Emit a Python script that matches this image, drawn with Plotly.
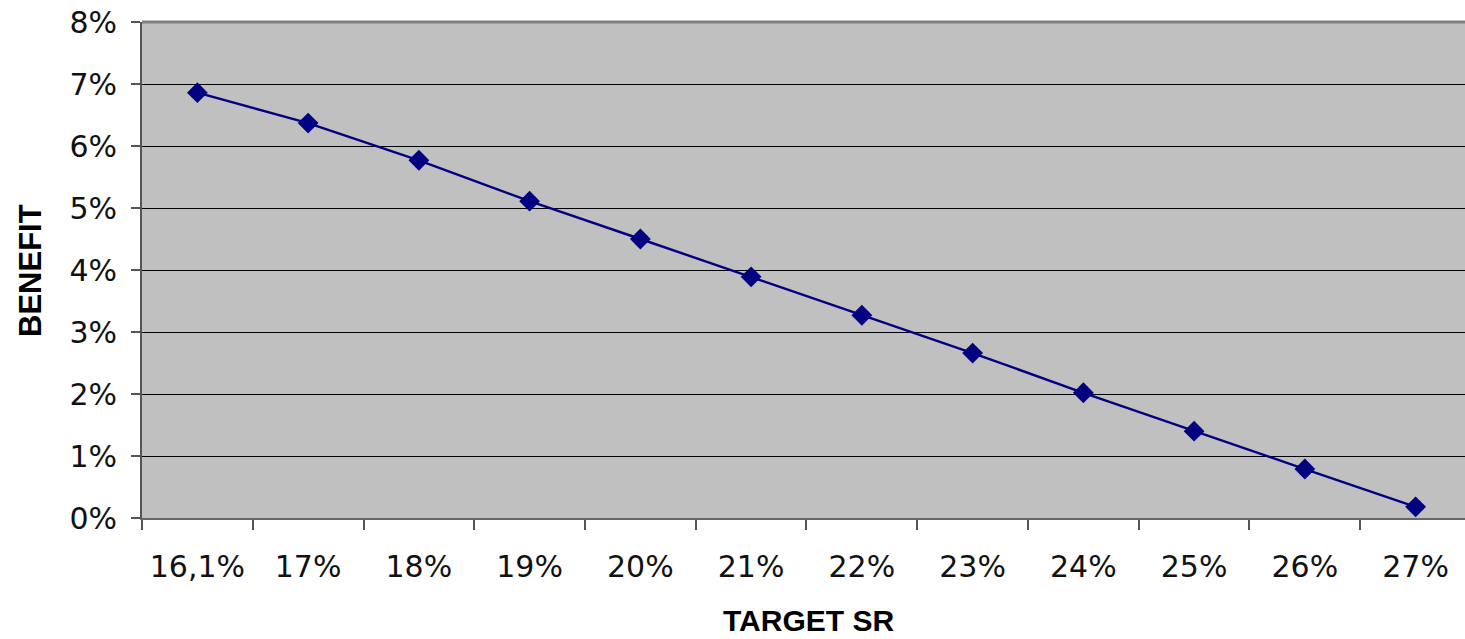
import plotly.graph_objects as go

categories = ["16,1%", "17%", "18%", "19%", "20%", "21%", "22%", "23%", "24%", "25%", "26%", "27%"]
benefit = [6.86, 6.37, 5.77, 5.11, 4.50, 3.89, 3.27, 2.66, 2.02, 1.40, 0.79, 0.18]
y_ticks = [0, 1, 2, 3, 4, 5, 6, 7, 8]
y_tick_labels = [f"{v}%" for v in y_ticks]

FONT = "DejaVu Sans"
TITLE_FONT = "Liberation Sans"

fig = go.Figure()
fig.add_trace(go.Scatter(
    x=categories, y=benefit, mode="lines+markers",
    line=dict(color="#000080", width=2.4),
    marker=dict(symbol="diamond", size=16, color="#000080"),
    showlegend=False, cliponaxis=False,
))

fig.update_layout(
    width=1465, height=639,
    margin=dict(l=142, r=0, t=22, b=121),
    paper_bgcolor="white", plot_bgcolor="#C0C0C0",
    font=dict(family=FONT, size=30, color="black"),
    xaxis=dict(
        type="category", range=[-0.5, 11.446],
        tickson="boundaries", ticks="outside", ticklen=10, tickcolor="#555555", tickwidth=1.5,
        showgrid=False, showline=True, linecolor="#666666", linewidth=2,
        ticklabelstandoff=21, tickfont=dict(family=FONT, size=30, color="#111111"),
    ),
    yaxis=dict(
        range=[0, 8], tickvals=y_ticks, ticktext=y_tick_labels,
        ticks="outside", ticklen=9, tickcolor="#555555", tickwidth=1.5,
        showgrid=True, gridcolor="black", gridwidth=1,
        showline=True, linecolor="#555555", linewidth=2,
        zeroline=False, ticklabelstandoff=8, ticklabeloverflow="allow",
        tickfont=dict(family=FONT, size=30, color="#111111"),
    ),
    annotations=[
        dict(text="<b>BENEFIT</b>", xref="paper", yref="paper", x=-0.0847, y=0.5,
             textangle=-90, showarrow=False, font=dict(family=TITLE_FONT, size=31),
             xanchor="center", yanchor="middle"),
        dict(text="<b>TARGET SR</b>", xref="paper", yref="paper", x=0.5035, y=-0.243,
             showarrow=False, font=dict(family=TITLE_FONT, size=30),
             xanchor="center", yanchor="bottom"),
    ],
    shapes=[dict(type="line", xref="paper", yref="paper", x0=0, x1=1, y0=1, y1=1,
                 line=dict(color="#808080", width=3))],
)

fig.write_html("out.html", config={"displayModeBar": False},
               post_script="document.body.style.margin='0';")
